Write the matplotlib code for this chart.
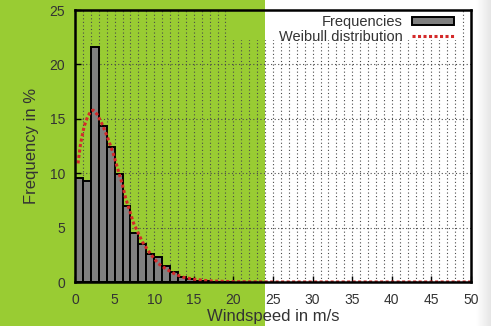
import matplotlib.pyplot as plt
plt.switch_backend('agg')
import numpy as np
from matplotlib.patches import Rectangle, PathPatch
from matplotlib.path import Path

# histogram of windspeed (1 m/s bins starting at 0), percent
bin_left = list(range(0, 20))
freq = [9.6, 9.3, 21.6, 14.3, 12.4, 9.9, 7.0, 4.5, 3.5, 2.6,
        2.3, 1.45, 0.95, 0.5, 0.25, 0.12, 0.06, 0.03, 0.02, 0.01]

# fitted weibull curve
weib_x = [0.38, 0.7, 1.15, 1.6, 2.0, 2.3, 2.8, 3.5, 4.1, 4.75, 5.4, 6.0, 6.4,
          7.4, 8.5, 9.5, 10.5, 11.6, 12.7, 13.7, 15, 17, 20, 25, 50]
weib_y = [10.9, 12.7, 14.3, 15.2, 15.7, 15.8, 15.4, 14.4, 13.3, 12.0, 10.4, 8.9, 7.7,
          5.4, 3.7, 2.6, 1.7, 1.15, 0.7, 0.43, 0.25, 0.1, 0.03, 0.0, 0.0]

x_ticks = [0, 5, 10, 15, 20, 25, 30, 35, 40, 45, 50]
y_ticks = [0, 5, 10, 15, 20, 25]

plt.rcParams['font.family'] = ['Liberation Sans', 'DejaVu Sans']
txt = '#333333'

fig = plt.figure(figsize=(4.91, 3.26), dpi=100, facecolor='white')
# slide background: green on the left part
fig.patches.append(Rectangle((0, 0), 265 / 491, 1, transform=fig.transFigure,
                             facecolor='#99cc33', edgecolor='none', zorder=-10))
# faint shadow at the right edge
shade = fig.add_axes([476 / 491, 0, 15 / 491, 1], zorder=-5)
shade.imshow(np.linspace(1.0, 0.9, 30)[None, :], cmap='gray', vmin=0, vmax=1,
             aspect='auto', extent=[0, 1, 0, 1])
shade.axis('off')

ax = fig.add_axes([75 / 491, 44 / 326, 396 / 491, 272 / 326])
ax.set_facecolor('none')

bars = ax.bar(bin_left, freq, width=1.0, align='edge', color='#808080',
              edgecolor='black', linewidth=1.4, label='Frequencies', zorder=2)
line, = ax.plot(weib_x, weib_y, color='#d42a2a', linestyle=(0, (1, 0.8)), linewidth=2.2,
                label='Weibull distribution', zorder=3)

ax.set_xlim(0, 50)
ax.set_ylim(0, 25)
ax.set_xticks(x_ticks)
ax.set_yticks(y_ticks)
ax.tick_params(which='major', direction='in', length=4, width=1, color='black',
               labelsize=10, labelcolor=txt)
ax.tick_params(axis='y', pad=7)
ax.tick_params(axis='x', pad=8)
for s in ax.spines.values():
    s.set_linewidth(1.8)
    s.set_zorder(4)

# dotted grid: every 1 m/s vertically, every 5 % horizontally
grid_kw = dict(colors='#4a4a4a', linestyles=(0, (1, 2.2)), linewidths=0.8, zorder=1)
vg = ax.vlines(np.arange(1, 50), 0, 25, **grid_kw)
hg = ax.hlines(y_ticks[1:-1], 0, 50, **grid_kw)

# the key box hides the grid behind it
clip = Path([(0, 0), (1, 0), (1, 1), (0.97, 1), (0.97, 0.888), (0.394, 0.888),
             (0.394, 1), (0, 1), (0, 0)])
clip_patch = PathPatch(clip, transform=ax.transAxes, facecolor='none', edgecolor='none')
ax.add_patch(clip_patch)
vg.set_clip_path(clip_patch)
hg.set_clip_path(clip_patch)

ax.set_xlabel('Windspeed in m/s', fontsize=12, color=txt, labelpad=1)
ax.set_ylabel('Frequency in %', fontsize=12, color=txt, labelpad=8)

ax.legend([bars, line], ['Frequencies', 'Weibull distribution'], loc='upper right',
          bbox_to_anchor=(0.972, 1.003), borderaxespad=0,
          frameon=False, markerfirst=False, fontsize=10.5,
          handlelength=2.9, handleheight=0.5, handletextpad=0.6, labelspacing=0.05,
          labelcolor=txt)

fig.savefig('out.png', dpi=100, facecolor=fig.get_facecolor())
